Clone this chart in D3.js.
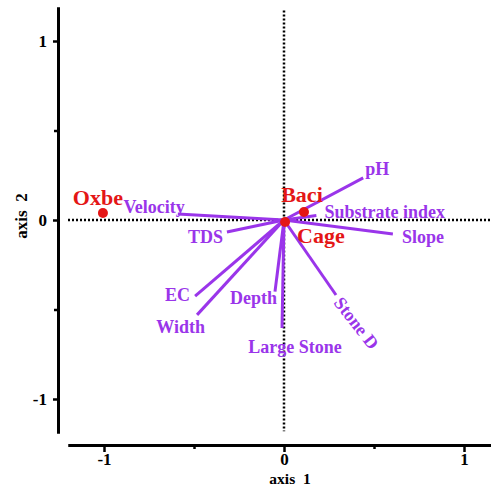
<!DOCTYPE html>
<html>
<head>
<meta charset="utf-8">
<script src="https://cdn.jsdelivr.net/npm/d3@7"></script>
<style>
  body { margin: 0; background: #fff; }
  text { font-family: "Liberation Serif", "Times New Roman", serif; font-weight: bold; }
</style>
</head>
<body>
<div id="chart"></div>
<script>
// environmental vectors (axis 1, axis 2)
var vecNames = ["pH", "Substrate index", "Slope", "Velocity", "TDS", "EC", "Width", "Depth", "Large Stone", "Stone D"];
var vecX = [0.44, 0.18, 0.605, -0.59, -0.317, -0.494, -0.483, -0.05, -0.011, 0.289];
var vecY = [0.235, 0.025, -0.078, 0.034, -0.067, -0.425, -0.53, -0.40, -0.603, -0.419];

// sites
var siteNames = ["Oxbe", "Baci", "Cage"];
var siteX = [-1.006, 0.111, 0.006];
var siteY = [0.039, 0.045, -0.011];

var majorTicks = [-1, 0, 1];
var minorTicks = [-0.5, 0.5];

// label placement, pixels from the vector tip
var vecLabelPos = {
  "pH":              { dx: 2,   dy: -3, anchor: "start" },
  "Substrate index": { dx: 8,   dy: 2,  anchor: "start" },
  "Slope":           { dx: 9,   dy: 9,  anchor: "start" },
  "Velocity":        { dx: 7,   dy: -1, anchor: "end" },
  "TDS":             { dx: -4,  dy: 11, anchor: "end" },
  "EC":              { dx: -5,  dy: 5,  anchor: "end" },
  "Width":           { dx: 8,   dy: 18, anchor: "end" },
  "Depth":           { dx: 2,   dy: 12, anchor: "end" },
  "Large Stone":     { dx: 13,  dy: 25, anchor: "middle" },
  "Stone D":         { dx: -3,  dy: 8,  anchor: "start", rotate: 52 }
};
var siteLabelPos = {
  "Oxbe": { dx: -5, dy: -8, anchor: "middle" },
  "Baci": { dx: -2, dy: -10, anchor: "middle" },
  "Cage": { dx: 12, dy: 21, anchor: "start" }
};

var svg_Width = 491;
var svg_Height = 488;
var purple = "#9a35ea";
var red = "#e41616";

var svg = d3.select("#chart")
  .append("svg")
  .attr("width", svg_Width)
  .attr("height", svg_Height);

var x = d3.scaleLinear().domain([-1.2, 1.15]).range([68, 491]);
var y = d3.scaleLinear().domain([-1.19, 1.19]).range([433, 7]);

// dotted zero lines
svg.append("line")
  .attr("x1", x(-1.2)).attr("x2", x(1.15))
  .attr("y1", y(0)).attr("y2", y(0))
  .attr("stroke", "#000").attr("stroke-width", 2.5)
  .attr("stroke-dasharray", "2,2");
svg.append("line")
  .attr("x1", x(0)).attr("x2", x(0))
  .attr("y1", y(1.17)).attr("y2", y(-1.18))
  .attr("stroke", "#000").attr("stroke-width", 2.5)
  .attr("stroke-dasharray", "2,2");

// axes
var xAxisY = 445;
var yAxisX = 58;
var fmt = function(d) { return d < 0 ? "-" + Math.abs(d) : String(d); };

var xMajor = d3.axisBottom(x).tickValues(majorTicks).tickSize(7).tickSizeOuter(0).tickPadding(1).tickFormat(fmt);
var xMinor = d3.axisBottom(x).tickValues(minorTicks).tickSize(4).tickSizeOuter(0).tickFormat("");
var yMajor = d3.axisLeft(y).tickValues(majorTicks).tickSize(5).tickSizeOuter(0).tickPadding(6).tickFormat(fmt);
var yMinor = d3.axisLeft(y).tickValues(minorTicks).tickSize(4).tickSizeOuter(0).tickFormat("");

function styleAxis(g) {
  g.select(".domain").attr("stroke", "#000").attr("stroke-width", 3);
  g.selectAll(".tick line").attr("stroke", "#000").attr("stroke-width", 2.5);
  g.selectAll(".tick text")
    .attr("fill", "#000")
    .style("font-size", "17px")
    .style("font-family", "'Liberation Serif', 'Times New Roman', serif")
    .style("font-weight", "bold");
}

svg.append("g").attr("transform", "translate(0," + xAxisY + ")").call(xMajor).call(styleAxis);
svg.append("g").attr("transform", "translate(0," + xAxisY + ")").call(xMinor).call(styleAxis);
svg.append("g").attr("transform", "translate(" + yAxisX + ",0)").call(yMajor).call(styleAxis);
svg.append("g").attr("transform", "translate(" + yAxisX + ",0)").call(yMinor).call(styleAxis);

// axis titles
svg.append("text")
  .attr("x", 290).attr("y", 484)
  .attr("text-anchor", "middle")
  .style("font-size", "15.5px")
  .style("white-space", "pre")
  .text("axis  1");
svg.append("text")
  .attr("transform", "translate(27,216) rotate(-90)")
  .attr("text-anchor", "middle")
  .style("font-size", "17px")
  .style("white-space", "pre")
  .text("axis  2");

// vectors
var vectors = vecNames.map(function(n, i) { return { name: n, x: vecX[i], y: vecY[i] }; });

svg.append("g").selectAll("line")
  .data(vectors)
  .enter()
  .append("line")
  .attr("x1", x(0)).attr("y1", y(0))
  .attr("x2", function(d) { return x(d.x); })
  .attr("y2", function(d) { return y(d.y); })
  .attr("stroke", purple)
  .attr("stroke-width", 3);

svg.append("g").selectAll("text")
  .data(vectors)
  .enter()
  .append("text")
  .attr("transform", function(d) {
    var p = vecLabelPos[d.name];
    var t = "translate(" + (x(d.x) + p.dx) + "," + (y(d.y) + p.dy) + ")";
    if (p.rotate) t += " rotate(" + p.rotate + ")";
    return t;
  })
  .attr("text-anchor", function(d) { return vecLabelPos[d.name].anchor; })
  .attr("fill", purple)
  .style("font-size", "18px")
  .text(function(d) { return d.name; });

// sites
var sites = siteNames.map(function(n, i) { return { name: n, x: siteX[i], y: siteY[i] }; });

svg.append("g").selectAll("circle")
  .data(sites)
  .enter()
  .append("circle")
  .attr("cx", function(d) { return x(d.x); })
  .attr("cy", function(d) { return y(d.y); })
  .attr("r", 5)
  .attr("fill", red);

svg.append("g").selectAll("text")
  .data(sites)
  .enter()
  .append("text")
  .attr("x", function(d) { return x(d.x) + siteLabelPos[d.name].dx; })
  .attr("y", function(d) { return y(d.y) + siteLabelPos[d.name].dy; })
  .attr("text-anchor", function(d) { return siteLabelPos[d.name].anchor; })
  .attr("fill", red)
  .style("font-size", "22px")
  .text(function(d) { return d.name; });
</script>
</body>
</html>
